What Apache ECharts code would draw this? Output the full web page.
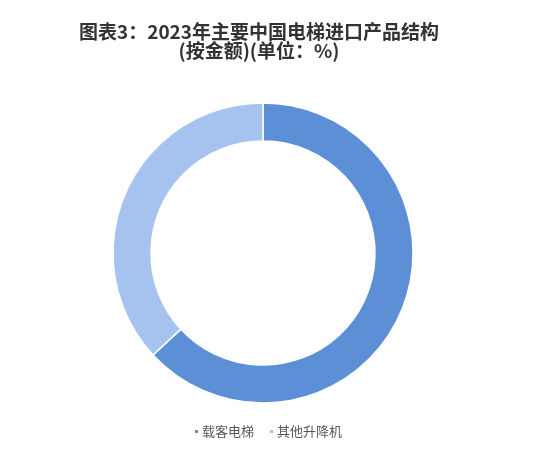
<!DOCTYPE html>
<html><head><meta charset="utf-8">
<script src="https://cdn.jsdelivr.net/npm/echarts@6/dist/echarts.min.js"></script>
<style>html,body{margin:0;padding:0;background:#fff}#c{width:555px;height:459px}</style>
</head><body><div id="c"></div>
<script>
const categories = ['载客电梯', '其他升降机'];
const values = [63.1, 36.9];
const colors = ['#5d8fd6', '#a5c3ee'];
const titleLines = ['图表3：2023年主要中国电梯进口产品结构', '(按金额)(单位：%)'];

const titleStyle = { fontFamily: 'Noto Sans CJK SC', fontSize: 19, fontWeight: 'bold', color: '#333', lineHeight: 19 };
const chart = echarts.init(document.getElementById('c'));
chart.setOption({
  animation: false,
  title: titleLines.map((t, i) => ({
    text: t,
    left: 259,
    textAlign: 'center',
    top: 22 + i * 19,
    padding: 0,
    textStyle: titleStyle
  })),
  legend: {
    bottom: 16,
    left: 188,
    itemWidth: 5, itemHeight: 5, itemGap: 14,
    icon: 'rect',
    textStyle: { fontFamily: 'Noto Sans CJK SC', fontSize: 13, color: '#595959', padding: [0,0,0,-2] },
    data: categories
  },
  series: [{
    type: 'pie',
    center: [263, 253],
    radius: [112, 150],
    startAngle: 90,
    clockwise: true,
    label: { show: false },
    labelLine: { show: false },
    itemStyle: { borderColor: '#fff', borderWidth: 1.5 },
    data: categories.map((n, i) => ({ name: n, value: values[i], itemStyle: { color: colors[i] } }))
  }]
});
</script></body></html>
